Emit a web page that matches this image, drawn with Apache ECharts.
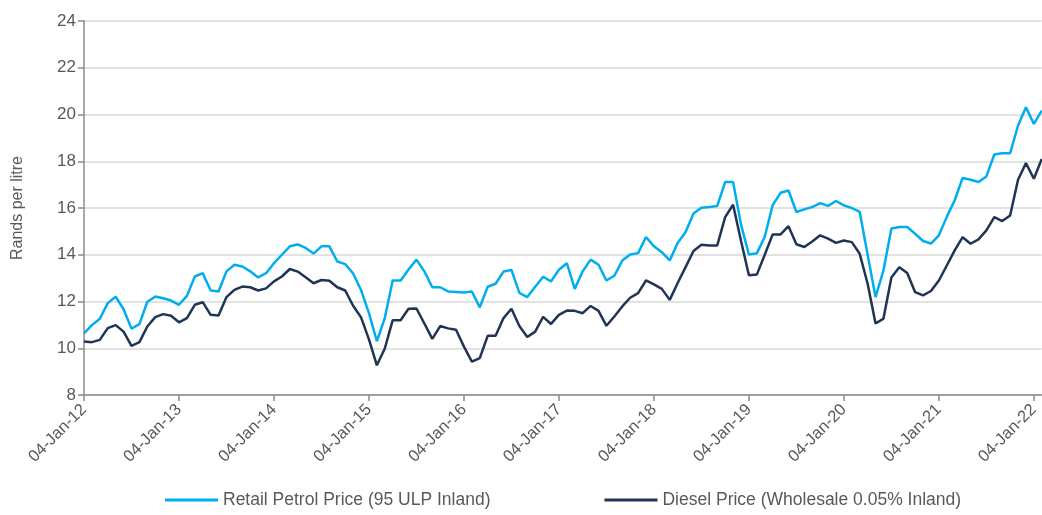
<!DOCTYPE html>
<html>
<head>
<meta charset="utf-8">
<script src="https://cdn.jsdelivr.net/npm/echarts@6/dist/echarts.min.js"></script>
<style>
html,body{margin:0;padding:0;background:#fff;}
#chart{width:1042px;height:515px;}
</style>
</head>
<body>
<div id="chart"></div>
<script>
// Monthly observations, Jan-2012 .. Feb-2022
const years = ['12','13','14','15','16','17','18','19','20','21','22'];
const monthNames = ['Jan','Feb','Mar','Apr','May','Jun','Jul','Aug','Sep','Oct','Nov','Dec'];
const lastYearMonths = 2; // Jan, Feb 2022

const petrol = [
  // 2012
  10.64, 10.99, 11.26, 11.93, 12.21, 11.67, 10.84, 11.03, 11.99, 12.21, 12.14, 12.04,
  // 2013
  11.86, 12.24, 13.07, 13.21, 12.47, 12.43, 13.29, 13.57, 13.50, 13.29, 13.03, 13.21,
  // 2014
  13.64, 14.00, 14.36, 14.44, 14.29, 14.05, 14.36, 14.36, 13.71, 13.60, 13.20, 12.49,
  // 2015
  11.50, 10.30, 11.29, 12.90, 12.90, 13.37, 13.79, 13.29, 12.61, 12.61, 12.43, 12.41,
  // 2016
  12.39, 12.43, 11.75, 12.63, 12.76, 13.28, 13.35, 12.37, 12.19, 12.63, 13.06, 12.86,
  // 2017
  13.36, 13.64, 12.54, 13.29, 13.79, 13.57, 12.90, 13.10, 13.75, 14.01, 14.07, 14.76,
  // 2018
  14.36, 14.11, 13.76, 14.50, 14.97, 15.76, 16.01, 16.04, 16.09, 17.11, 17.11, 15.30,
  // 2019
  14.01, 14.06, 14.77, 16.12, 16.65, 16.75, 15.83, 15.94, 16.04, 16.21, 16.09, 16.30,
  // 2020
  16.11, 16.00, 15.83, 14.00, 12.19, 13.33, 15.12, 15.19, 15.19, 14.90, 14.59, 14.48,
  // 2021
  14.83, 15.62, 16.33, 17.29, 17.21, 17.11, 17.35, 18.29, 18.34, 18.34, 19.53, 20.31,
  // 2022
  19.60, 20.17
];

const diesel = [
  // 2012
  10.29, 10.26, 10.36, 10.86, 10.99, 10.71, 10.10, 10.26, 10.93, 11.33, 11.46, 11.39,
  // 2013
  11.11, 11.29, 11.86, 11.97, 11.43, 11.40, 12.19, 12.50, 12.64, 12.61, 12.47, 12.56,
  // 2014
  12.86, 13.07, 13.39, 13.28, 13.04, 12.78, 12.92, 12.89, 12.61, 12.47, 11.82, 11.32,
  // 2015
  10.38, 9.27, 9.99, 11.20, 11.20, 11.69, 11.70, 11.06, 10.40, 10.95, 10.85, 10.79,
  // 2016
  10.07, 9.43, 9.58, 10.53, 10.53, 11.29, 11.69, 10.95, 10.48, 10.71, 11.34, 11.04,
  // 2017
  11.43, 11.61, 11.60, 11.50, 11.81, 11.60, 10.96, 11.36, 11.79, 12.16, 12.36, 12.90,
  // 2018
  12.73, 12.54, 12.07, 12.79, 13.47, 14.16, 14.43, 14.40, 14.40, 15.61, 16.14, 14.60,
  // 2019
  13.12, 13.15, 14.00, 14.87, 14.87, 15.22, 14.45, 14.33, 14.57, 14.83, 14.69, 14.51,
  // 2020
  14.61, 14.54, 14.04, 12.76, 11.06, 11.27, 13.03, 13.47, 13.22, 12.40, 12.26, 12.45,
  // 2021
  12.90, 13.54, 14.19, 14.75, 14.47, 14.66, 15.04, 15.61, 15.44, 15.68, 17.21, 17.92,
  // 2022
  17.25, 18.10
];

const tickDay = '04';
const seriesNames = ['Retail Petrol Price (95 ULP Inland)', 'Diesel Price (Wholesale 0.05% Inland)'];
const yAxisName = 'Rands per litre';

// build categories (one per month) – January entries carry the tick label
const categories = [];
years.forEach(function (y, yi) {
  const n = (yi === years.length - 1) ? lastYearMonths : 12;
  for (let m = 0; m < n; m++) {
    categories.push(tickDay + '-' + monthNames[m] + '-' + y);
  }
});

const FONT = '"Liberation Sans Narrow", "Liberation Sans", Arial, sans-serif';
const GREY = '#595959';
const isJan = function (idx) { return idx % 12 === 0; };

const chart = echarts.init(document.getElementById('chart'), null, { renderer: 'canvas' });
chart.setOption({
  backgroundColor: '#ffffff',
  animation: false,
  textStyle: { fontFamily: FONT },
  grid: { left: 84, right: 0, top: 21, bottom: 120, containLabel: false },
  legend: {
    bottom: 1,
    left: 160,
    itemGap: 114,
    itemWidth: 53,
    itemHeight: 3,
    icon: 'rect',
    textStyle: { fontFamily: FONT, fontSize: 17.5, color: GREY },
    data: seriesNames
  },
  xAxis: {
    type: 'category',
    data: categories,
    boundaryGap: false,
    axisLine: { show: true, lineStyle: { color: '#8c8c8c', width: 1.5 } },
    axisTick: { show: true, interval: isJan, length: 6, lineStyle: { color: '#8c8c8c', width: 1.5 } },
    axisLabel: {
      interval: isJan,
      rotate: 45,
      margin: 12,
      fontFamily: FONT,
      fontSize: 16.5,
      color: GREY
    },
    splitLine: { show: false }
  },
  yAxis: {
    type: 'value',
    min: 8,
    max: 24,
    interval: 2,
    name: yAxisName,
    nameLocation: 'middle',
    nameGap: 58,
    nameRotate: 90,
    nameTextStyle: { fontFamily: FONT, fontSize: 16, color: GREY },
    axisLine: { show: true, lineStyle: { color: '#8c8c8c', width: 1.5 } },
    axisTick: { show: true, length: 6, lineStyle: { color: '#8c8c8c', width: 1.5 } },
    axisLabel: { margin: 8, fontFamily: FONT, fontSize: 17, color: GREY },
    splitLine: { show: true, lineStyle: { color: '#d9d9d9', width: 1.5 } }
  },
  series: [
    {
      name: seriesNames[0],
      type: 'line',
      data: petrol,
      showSymbol: false,
      symbol: 'none',
      lineStyle: { color: '#00aeef', width: 2.5 },
      itemStyle: { color: '#00aeef' },
      z: 3
    },
    {
      name: seriesNames[1],
      type: 'line',
      data: diesel,
      showSymbol: false,
      symbol: 'none',
      lineStyle: { color: '#1f3553', width: 2.5 },
      itemStyle: { color: '#1f3553' },
      z: 2
    }
  ]
});
</script>
</body>
</html>
